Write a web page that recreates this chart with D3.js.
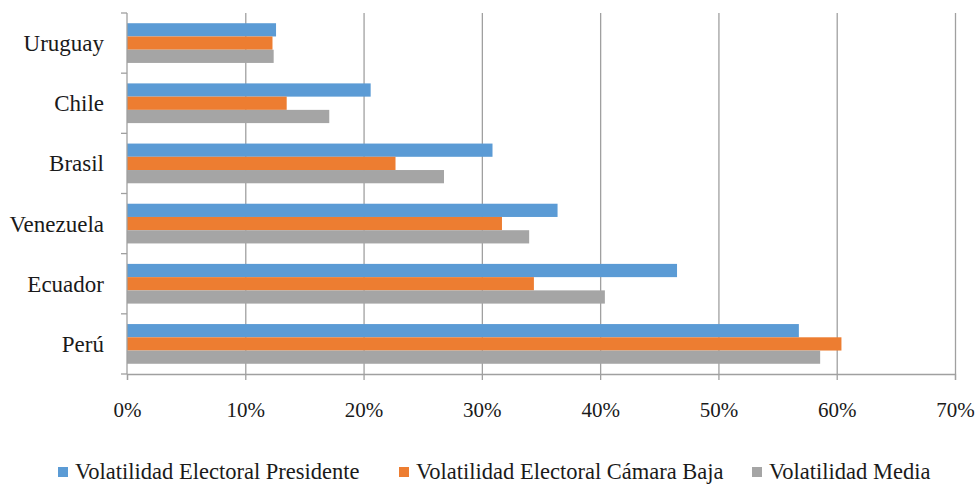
<!DOCTYPE html>
<html>
<head>
	<meta charset="utf-8">
	<title></title>
	<style type="text/css">
        body{
            padding:0;
            margin:0;
            overflow: hidden;
            background:#fff;
        }
        svg text{ font-family:'Liberation Serif','Times New Roman','DejaVu Serif',serif; fill:#1a1a1a; }
	</style>
</head>
<body>

<div id='svg-chart'></div>

<script type="text/javascript" src='https://cdnjs.cloudflare.com/ajax/libs/d3/7.8.5/d3.min.js'></script>
<script type="text/javascript">

    var countries = ['Uruguay','Chile','Brasil','Venezuela','Ecuador','Perú'];
    var seriesNames = ['Volatilidad Electoral Presidente','Volatilidad Electoral Cámara Baja','Volatilidad Media'];
    var presidente = [12.6, 20.6, 30.9, 36.4, 46.5, 56.8];
    var camaraBaja = [12.3, 13.5, 22.7, 31.7, 34.4, 60.4];
    var media      = [12.4, 17.1, 26.8, 34.0, 40.4, 58.6];
    var xTicks = [0,10,20,30,40,50,60,70];
    var colors = ['#5B9BD5','#ED7D31','#A5A5A5'];

    var width = 978, height = 484;
    // plot box (named pLeft etc. since window.top is read-only)
    var pLeft = 127, pRight = 955, pTop = 13, pBottom = 374;
    var serif = "'Liberation Serif','Times New Roman','DejaVu Serif',serif";

    var series = [presidente, camaraBaja, media];

    var svg = d3.select('#svg-chart')
        .append('svg')
        .attr('width',width)
        .attr('height',height)
        .attr('font-family',serif);

    var xScale = d3.scaleLinear().domain([0,70]).range([pLeft,pRight]);
    var yScale = d3.scaleBand().domain(countries).range([pTop,pBottom]).paddingInner(0.34).paddingOuter(0.17);
    var subScale = d3.scaleBand().domain(d3.range(series.length)).range([0,yScale.bandwidth()]);

    // gridlines
    svg.append('g').selectAll('line')
        .data(xTicks.slice(1))
        .enter().append('line')
        .attr('x1',d=>xScale(d)+0.5).attr('x2',d=>xScale(d)+0.5)
        .attr('y1',pTop).attr('y2',pBottom)
        .style('stroke','#a0a0a0').style('stroke-width',1.3);

    // bars
    var groups = svg.append('g').selectAll('g')
        .data(countries)
        .enter().append('g')
        .attr('transform',d=>'translate(0,'+yScale(d)+')');

    groups.selectAll('rect')
        .data((c,i)=>series.map((s,j)=>({v:s[i], j:j})))
        .enter().append('rect')
        .attr('x',xScale(0))
        .attr('y',d=>subScale(d.j))
        .attr('width',d=>xScale(d.v)-xScale(0))
        .attr('height',subScale.bandwidth())
        .style('fill',d=>colors[d.j]);

    // x axis
    var xAxis = svg.append('g')
        .attr('transform','translate(0,'+pBottom+')')
        .call(d3.axisBottom(xScale).tickValues(xTicks).tickFormat(d=>d+'%').tickSizeOuter(0).tickSize(6).tickPadding(22));
    xAxis.attr('font-family',serif).attr('font-size',21);
    xAxis.select('.domain').style('stroke','#a0a0a0').style('stroke-width',1.3);
    xAxis.selectAll('.tick line').style('stroke','#a0a0a0').style('stroke-width',1.3);
    xAxis.selectAll('text').style('fill','#1a1a1a');

    // y axis: ticks between categories
    var yAxisG = svg.append('g');
    yAxisG.append('line')
        .attr('x1',pLeft).attr('x2',pLeft).attr('y1',pTop).attr('y2',pBottom)
        .style('stroke','#a0a0a0').style('stroke-width',1.3);
    var step = yScale.step();
    yAxisG.selectAll('.ytick')
        .data(d3.range(countries.length+1))
        .enter().append('line')
        .attr('x1',pLeft-6).attr('x2',pLeft)
        .attr('y1',i=>pTop+i*step).attr('y2',i=>pTop+i*step)
        .style('stroke','#a0a0a0').style('stroke-width',1.3);
    yAxisG.selectAll('text')
        .data(countries)
        .enter().append('text')
        .attr('x',104)
        .attr('y',d=>yScale(d)+yScale.bandwidth()/2)
        .attr('dy','0.35em')
        .attr('text-anchor','end')
        .style('font-size','23px')
        .text(d=>d);

    // legend
    var legendX = [58, 399, 752];
    var legend = svg.append('g').selectAll('g')
        .data(seriesNames)
        .enter().append('g')
        .attr('transform',(d,i)=>'translate('+legendX[i]+',471)');
    legend.append('rect')
        .attr('x',0).attr('y',-4).attr('width',10).attr('height',10)
        .style('fill',(d,i)=>colors[i]);
    legend.append('text')
        .attr('x',17).attr('y',0).attr('dy','0.35em')
        .style('font-size','22.5px')
        .text(d=>d);

</script>

</body>
</html>
